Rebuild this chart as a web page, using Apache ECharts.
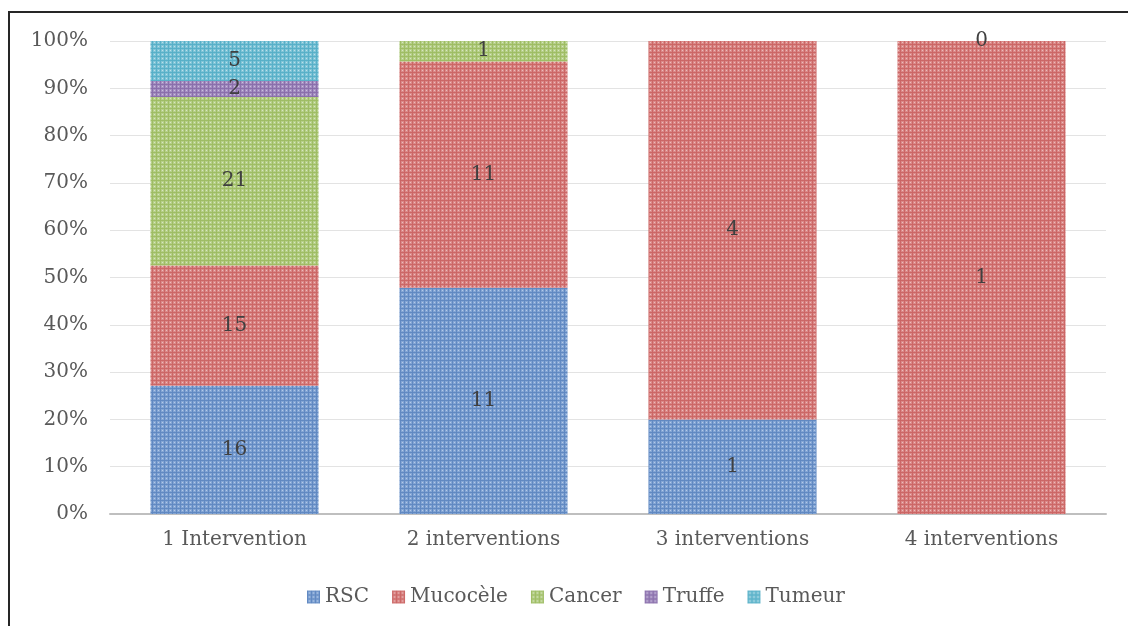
<!DOCTYPE html>
<html>
<head>
<meta charset="utf-8">
<script src="https://cdn.jsdelivr.net/npm/echarts@6/dist/echarts.min.js"></script>
<style>
  html, body { margin: 0; padding: 0; background: #fff; }
  #chart { width: 1128px; height: 626px; }
</style>
</head>
<body>
<div id="chart"></div>
<script>
// Categories (number of interventions) and patient counts per diagnosis
const categories = ['1 Intervention', '2 interventions', '3 interventions', '4 interventions'];
const rsc      = [16, 11, 1, null];
const mucocele = [15, 11, 4, 1];
const cancer   = [21, 1, null, 0];
const truffe   = [2, null, null, null];
const tumeur   = [5, null, null, null];
const yTicks   = [0, 10, 20, 30, 40, 50, 60, 70, 80, 90, 100];

const seriesNames = ['RSC', 'Mucocèle', 'Cancer', 'Truffe', 'Tumeur'];
const seriesData = [rsc, mucocele, cancer, truffe, tumeur];

// Small grid pattern fill, like an office "small grid" texture
function tile(fg, bg, dot) {
  const c = document.createElement('canvas');
  c.width = 4; c.height = 4;
  const g = c.getContext('2d');
  g.fillStyle = bg; g.fillRect(0, 0, 4, 4);
  g.fillStyle = fg; g.fillRect(0, 0, 4, 1); g.fillRect(0, 0, 1, 4);
  g.fillStyle = dot; g.fillRect(2, 2, 1, 1);
  return { image: c, repeat: 'repeat' };
}
const fills = [
  tile('#6189c2', '#83a5d4', '#b4c9e8'),
  tile('#cc6766', '#da8988', '#edbcbb'),
  tile('#9fbd64', '#b6cf89', '#d8e6c0'),
  tile('#8a6fab', '#a590c2', '#ccc0de'),
  tile('#58b0c8', '#7fc4d7', '#bbe0ea')
];

// Totals per category, used to draw each column as 100%
const totals = categories.map((_, i) =>
  seriesData.reduce((s, arr) => s + (arr[i] || 0), 0));

const font = 'DejaVu Serif';

const series = seriesNames.map((name, si) => ({
  name,
  type: 'bar',
  stack: 'all',
  barWidth: '67.5%',
  itemStyle: { color: fills[si] },
  label: {
    show: true,
    position: 'inside',
    fontFamily: font,
    fontSize: 20,
    color: '#404040',
    formatter: p => String(seriesData[si][p.dataIndex])
  },
  data: seriesData[si].map((v, i) => v === null ? null : v / totals[i] * 100)
}));

const chart = echarts.init(document.getElementById('chart'), null, { renderer: 'canvas' });
chart.setOption({
  animation: false,
  backgroundColor: '#ffffff',
  grid: { left: 110, right: 22, top: 41, bottom: 112 },
  legend: {
    data: seriesNames,
    left: 307,
    top: 587,
    padding: 0,
    itemWidth: 13,
    itemHeight: 13,
    itemGap: 23,
    icon: 'rect',
    textStyle: { fontFamily: font, fontSize: 20, color: '#595959' }
  },
  xAxis: {
    type: 'category',
    data: categories,
    axisTick: { show: false },
    axisLine: { lineStyle: { color: '#bfbfbf', width: 2 } },
    axisLabel: { fontFamily: font, fontSize: 20, color: '#595959', margin: 16 }
  },
  yAxis: {
    type: 'value',
    min: yTicks[0],
    max: yTicks[yTicks.length - 1],
    interval: 10,
    axisLine: { show: false },
    axisTick: { show: false },
    splitLine: { lineStyle: { color: '#e3e3e3', width: 1 } },
    axisLabel: { fontFamily: font, fontSize: 20, color: '#595959', margin: 22, formatter: '{value}%' }
  },
  graphic: [{
    type: 'polyline',
    shape: { points: [[9, 640], [9, 12], [1140, 12]] },
    style: { stroke: '#262626', lineWidth: 2, fill: null }
  }],
  series
});
</script>
</body>
</html>
